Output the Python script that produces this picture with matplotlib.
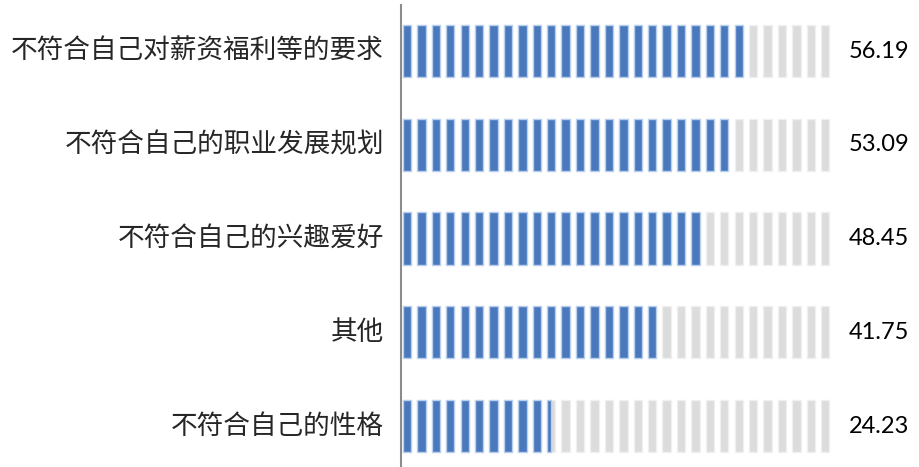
import numpy as np
import matplotlib

matplotlib.use("Agg")
import matplotlib.pyplot as plt

# data (top to bottom)
categories = [
    "不符合自己对薪资福利等的要求",
    "不符合自己的职业发展规划",
    "不符合自己的兴趣爱好",
    "其他",
    "不符合自己的性格",
]
values = [56.19, 53.09, 48.45, 41.75, 24.23]

# background "full" bar and stripe pattern
bg_max = 70.0
n_stripes = 30
blue = "#4a78bd"
blue_edge = "#b8d0ee"
gray = "#dcdcdc"
gray_edge = "#f0f0f0"

fig = plt.figure(figsize=(9.19, 4.67), dpi=100)
W, H = 919, 467
ax = fig.add_axes([401 / W, 0, 1 - 401 / W, 1 - 5 / H])

px_per_unit = 6.18
ax.set_xlim(0, (W - 401) / px_per_unit)
row = 93.75
ax.set_ylim((467 - 51) / row, -(51 - 5) / row)

period = bg_max / n_stripes
sw = 0.58 * period
x0 = 0.3
lefts = x0 + np.arange(n_stripes) * period
ypos = np.arange(len(categories))
bar_h = 0.555

for y, val in zip(ypos, values):
    # gray background stripes
    ax.barh(
        np.full(n_stripes, y),
        sw,
        left=lefts,
        height=bar_h,
        color=gray,
        edgecolor=gray_edge,
        linewidth=1.0,
    )
    # blue value stripes, clipped at the value
    sel = lefts < val
    widths = np.minimum(sw, val - lefts[sel])
    ax.barh(
        np.full(sel.sum(), y),
        widths,
        left=lefts[sel],
        height=bar_h,
        color=blue,
        edgecolor=blue_edge,
        linewidth=1.0,
    )

# value labels
for y, val in zip(ypos, values):
    ax.text(
        72.5,
        y,
        f"{val:.2f}",
        ha="left",
        va="center",
        fontsize=17,
        family=["Lato", "DejaVu Sans"],
        color="#000000",
    )

# category labels
for y, cat in zip(ypos, categories):
    ax.text(
        -17 / px_per_unit,
        y,
        cat,
        ha="right",
        va="center",
        fontsize=19.2,
        family=["Noto Sans CJK SC", "DejaVu Sans"],
        color="#262626",
    )

for s in ["top", "right", "bottom"]:
    ax.spines[s].set_visible(False)
ax.spines["left"].set_color("#8c8c8c")
ax.spines["left"].set_linewidth(1.5)
ax.set_xticks([])
ax.set_yticks([])

fig.savefig("out.png", dpi=100)
